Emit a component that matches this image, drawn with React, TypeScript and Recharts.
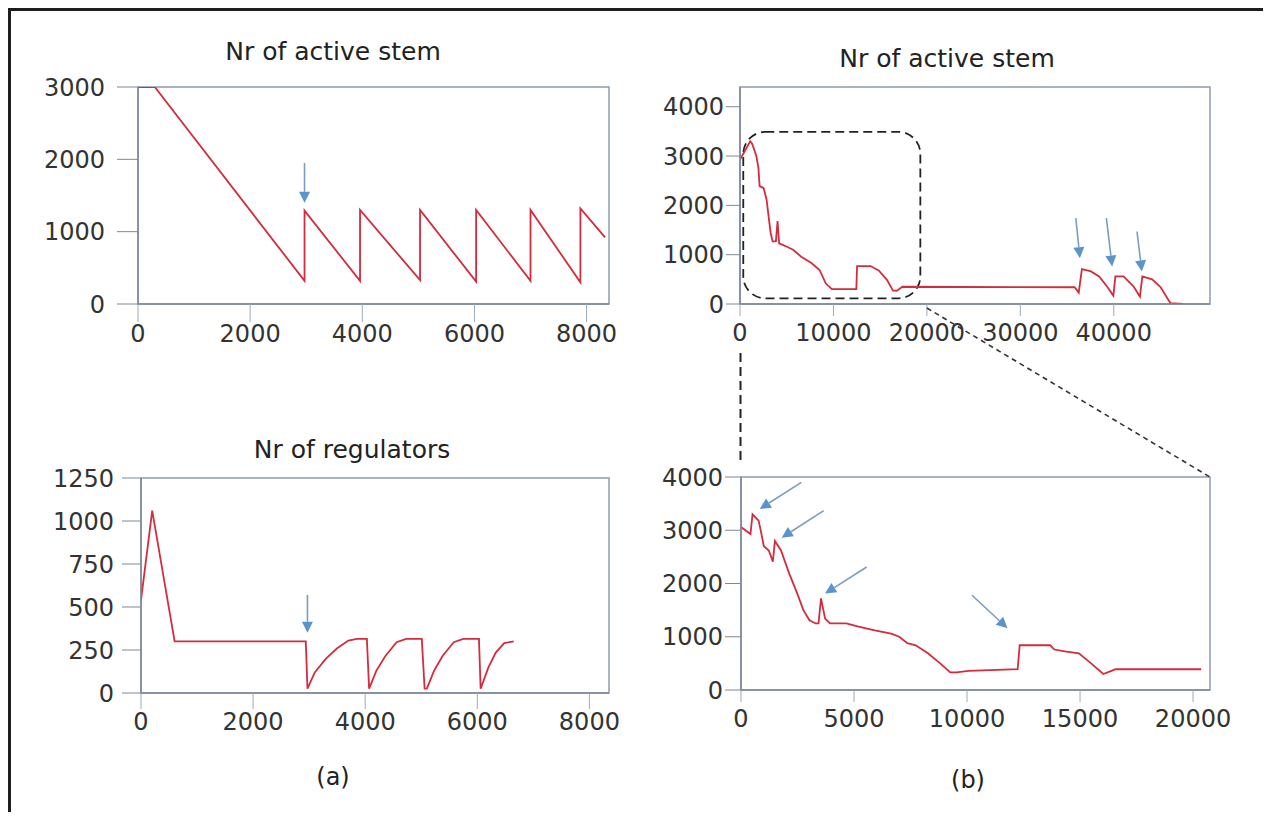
import React from "react";
import { LineChart, Line, XAxis, YAxis, ReferenceArea, ReferenceLine } from "recharts";

// (a) top: Nr of active stem
const stemAX = [0, 300, 2970, 2970, 3960, 3960, 5030, 5030, 6030, 6030, 7000, 7000, 7890, 7890, 8330];
const stemAY = [3000, 3000, 320, 1290, 320, 1300, 330, 1300, 310, 1300, 320, 1300, 300, 1320, 920];
const stemATicksX = [0, 2000, 4000, 6000, 8000];
const stemATicksY = [0, 1000, 2000, 3000];
const stemAArrows: Arrow[] = [{ from: [2970, 1950], to: [2970, 1400] }];

// (a) bottom: Nr of regulators
const regX = [0, 200, 600, 2940, 2970, 3100, 3300, 3500, 3700, 3850, 4030, 4070, 4200, 4360, 4560, 4730, 5010, 5060, 5100, 5230, 5380, 5580, 5750, 6030, 6060, 6200, 6330, 6480, 6650];
const regY = [540, 1060, 300, 300, 25, 120, 200, 260, 305, 315, 315, 25, 130, 215, 295, 315, 315, 25, 25, 130, 215, 295, 315, 315, 25, 150, 235, 290, 300];
const regTicksX = [0, 2000, 4000, 6000, 8000];
const regTicksY = [0, 250, 500, 750, 1000, 1250];
const regArrows: Arrow[] = [{ from: [2970, 570], to: [2970, 350] }];

// (b) top: Nr of active stem, long run
const stemBX = [0, 1090, 1300, 1750, 1970, 2100, 2530, 2840, 3280, 3490, 3840, 4020, 4190, 4800, 5680, 6550, 7640, 8520, 9170, 9830, 12450, 12530, 13970, 14850, 15720, 16380, 16810, 17380, 35810, 36250, 36590, 37560, 38430, 39300, 39960, 40170, 41050, 42140, 42800, 43060, 44100, 44980, 46070, 47380];
const stemBY = [2930, 3300, 3250, 3000, 2760, 2390, 2350, 2120, 1440, 1270, 1270, 1680, 1230, 1180, 1100, 960, 830, 690, 420, 300, 300, 770, 770, 680, 490, 270, 270, 350, 340, 230, 705, 660, 560, 350, 170, 560, 560, 350, 150, 560, 500, 350, 15, 0];
const stemBTicksX = [0, 10000, 20000, 30000, 40000];
const stemBTicksY = [0, 1000, 2000, 3000, 4000];
const stemBArrows: Arrow[] = [
  { from: [35940, 1740], to: [36380, 930] },
  { from: [39210, 1740], to: [39830, 760] },
  { from: [42490, 1470], to: [43010, 660] },
];
const stemBBox = { x1: 350, x2: 19300, y1: 115, y2: 3490 };

// (b) bottom: zoom on 0..20000
const zoomX = [0, 420, 510, 780, 900, 1010, 1230, 1410, 1500, 1770, 2130, 2490, 2760, 3030, 3300, 3430, 3540, 3720, 3940, 4660, 5200, 5920, 6640, 7000, 7360, 7730, 8270, 8810, 9260, 9530, 10070, 12240, 12330, 13680, 13860, 14400, 14950, 15490, 16030, 16390, 16570, 20360];
const zoomY = [3060, 2930, 3300, 3180, 2940, 2700, 2620, 2410, 2800, 2620, 2190, 1810, 1500, 1310, 1250, 1250, 1720, 1340, 1250, 1250, 1190, 1120, 1060, 1000, 880, 840, 690, 500, 330, 330, 360, 390, 840, 840, 760, 720, 690, 500, 300, 360, 390, 390];
const zoomTicksX = [0, 5000, 10000, 15000, 20000];
const zoomTicksY = [0, 1000, 2000, 3000, 4000];
const zoomArrows: Arrow[] = [
  { from: [2670, 3900], to: [830, 3400] },
  { from: [3660, 3370], to: [1800, 2860] },
  { from: [5560, 2310], to: [3720, 1810] },
  { from: [10220, 1780], to: [11790, 1160] },
];

type Arrow = { from: [number, number]; to: [number, number] };
type Rect = { left: number; right: number; top: number; bottom: number };

const FONT = "'DejaVu Sans', sans-serif";
const RED = "#d42b3e";
const AXIS = "#7d8995";
const FRAME = "#8e9bab";
const TEXT = "#333";

const PLOT_TL: Rect = { left: 130, right: 601, top: 79, bottom: 296 };
const PLOT_BL: Rect = { left: 133, right: 601, top: 470, bottom: 685 };
const PLOT_TR: Rect = { left: 732, right: 1202, top: 79, bottom: 296 };
const PLOT_BR: Rect = { left: 733, right: 1202, top: 469, bottom: 682 };

const ArrowShape = (p: any) => {
  const { x1, y1, x2, y2 } = p;
  const dx = x2 - x1;
  const dy = y2 - y1;
  const len = Math.hypot(dx, dy) || 1;
  const ux = dx / len;
  const uy = dy / len;
  const hl = 11;
  const hw = 5.5;
  const bx = x2 - ux * hl;
  const by = y2 - uy * hl;
  const px = -uy;
  const py = ux;
  return (
    <g>
      <line x1={x1} y1={y1} x2={bx} y2={by} stroke="#7c9dbf" strokeWidth={1.6} />
      <polygon points={`${x2},${y2} ${bx + px * hw},${by + py * hw} ${bx - px * hw},${by - py * hw}`} fill="#5b93cc" />
    </g>
  );
};

const DashedBox = (p: any) => (
  <rect x={p.x} y={p.y} width={p.width} height={p.height} rx={22} ry={22} fill="none" stroke="#222" strokeWidth={1.8} strokeDasharray="9 5" />
);

interface PanelProps {
  box: { left: number; top: number; width: number; height: number };
  plot: Rect;
  xs: number[];
  ys: number[];
  xMax: number;
  yMax: number;
  xTicks: number[];
  yTicks: number[];
  yTickSize: number;
  yTickMargin: number;
  xTickSize: number;
  xTickMargin: number;
  arrows: Arrow[];
  dashed?: { x1: number; x2: number; y1: number; y2: number };
}

function Panel(props: PanelProps) {
  const { box, plot, xs, ys } = props;
  const data = xs.map((x, i) => ({ x, y: ys[i] }));
  const margin = {
    top: plot.top - box.top,
    right: box.left + box.width - plot.right,
    left: 0,
    bottom: 0,
  };
  const tick = { fontSize: 24, fill: TEXT, fontFamily: FONT };
  return (
    <div style={{ position: "absolute", left: box.left, top: box.top }}>
      <LineChart width={box.width} height={box.height} data={data} margin={margin}>
        <ReferenceArea x1={0} x2={props.xMax} y1={0} y2={props.yMax} fill="none" stroke={FRAME} strokeWidth={1.5} fillOpacity={0} />
        <XAxis
          dataKey="x"
          type="number"
          domain={[0, props.xMax]}
          ticks={props.xTicks}
          interval={0}
          allowDataOverflow
          height={box.top + box.height - plot.bottom}
          tickSize={props.xTickSize}
          tickMargin={props.xTickMargin}
          tick={tick}
          axisLine={{ stroke: AXIS, strokeWidth: 1.5 }}
          tickLine={{ stroke: "#9aabbb" }}
        />
        <YAxis
          type="number"
          domain={[0, props.yMax]}
          ticks={props.yTicks}
          interval={0}
          allowDataOverflow
          width={plot.left - box.left}
          tickSize={props.yTickSize}
          tickMargin={props.yTickMargin}
          tick={tick}
          axisLine={{ stroke: AXIS, strokeWidth: 1.5 }}
          tickLine={{ stroke: AXIS }}
        />
        {props.dashed && (
          <ReferenceArea
            x1={props.dashed.x1}
            x2={props.dashed.x2}
            y1={props.dashed.y1}
            y2={props.dashed.y2}
            shape={DashedBox}
            ifOverflow="visible"
          />
        )}
        <Line type="linear" dataKey="y" stroke={RED} strokeWidth={1.8} dot={false} isAnimationActive={false} />
        {props.arrows.map((a, i) => (
          <ReferenceLine
            key={i}
            segment={[{ x: a.from[0], y: a.from[1] }, { x: a.to[0], y: a.to[1] }]}
            shape={ArrowShape}
            ifOverflow="visible"
          />
        ))}
      </LineChart>
    </div>
  );
}

const X_MAX_TL = 8400;
const X_MAX_BL = 8350;
const X_MAX_TR = 50300;
const X_MAX_BR = 20750;

const xToPx = (plot: Rect, max: number, v: number) => plot.left + (v / max) * (plot.right - plot.left);

export default function App() {
  const diagStartX = xToPx(PLOT_TR, X_MAX_TR, 20000);
  const zeroX = xToPx(PLOT_TR, X_MAX_TR, 0) + 0.5;
  return (
    <div style={{ position: "relative", width: 1255, height: 804, fontFamily: FONT, background: "#fff" }}>
      <Panel
        box={{ left: 0, top: 0, width: 620, height: 360 }}
        plot={PLOT_TL}
        xs={stemAX}
        ys={stemAY}
        xMax={X_MAX_TL}
        yMax={3000}
        xTicks={stemATicksX}
        yTicks={stemATicksY}
        yTickSize={21}
        yTickMargin={12}
        xTickSize={18}
        xTickMargin={3}
        arrows={stemAArrows}
      />
      <Panel
        box={{ left: 0, top: 380, width: 620, height: 360 }}
        plot={PLOT_BL}
        xs={regX}
        ys={regY}
        xMax={X_MAX_BL}
        yMax={1250}
        xTicks={regTicksX}
        yTicks={regTicksY}
        yTickSize={19}
        yTickMargin={8}
        xTickSize={16}
        xTickMargin={4}
        arrows={regArrows}
      />
      <Panel
        box={{ left: 620, top: 0, width: 620, height: 360 }}
        plot={PLOT_TR}
        xs={stemBX}
        ys={stemBY}
        xMax={X_MAX_TR}
        yMax={4400}
        xTicks={stemBTicksX}
        yTicks={stemBTicksY}
        yTickSize={14}
        yTickMargin={2}
        xTickSize={12}
        xTickMargin={8}
        arrows={stemBArrows}
        dashed={stemBBox}
      />
      <Panel
        box={{ left: 620, top: 380, width: 620, height: 360 }}
        plot={PLOT_BR}
        xs={zoomX}
        ys={zoomY}
        xMax={X_MAX_BR}
        yMax={4000}
        xTicks={zoomTicksX}
        yTicks={zoomTicksY}
        yTickSize={16}
        yTickMargin={2}
        xTickSize={12}
        xTickMargin={8}
        arrows={zoomArrows}
      />
      <svg width={1255} height={804} style={{ position: "absolute", left: 0, top: 0, pointerEvents: "none" }}>
        <line x1={0} y1={1.5} x2={1255} y2={1.5} stroke="#1e1e1e" strokeWidth={3} />
        <line x1={1.5} y1={0} x2={1.5} y2={804} stroke="#1e1e1e" strokeWidth={3} />
        <line x1={zeroX} y1={PLOT_TR.bottom + 49} x2={zeroX} y2={PLOT_BR.top - 14} stroke="#222" strokeWidth={2} strokeDasharray="9 5" />
        <line x1={diagStartX} y1={PLOT_TR.bottom + 4} x2={PLOT_BR.right} y2={PLOT_BR.top} stroke="#333" strokeWidth={1.6} strokeDasharray="5 4" />
        <g fontFamily={FONT} fontSize={25} fill="#222" textAnchor="middle">
          <text x={325} y={52}>Nr of active stem</text>
          <text x={939} y={59}>Nr of active stem</text>
          <text x={344} y={450}>Nr of regulators</text>
          <text x={325} y={777} fontSize={24}>(a)</text>
          <text x={960} y={780} fontSize={24}>(b)</text>
        </g>
      </svg>
    </div>
  );
}
